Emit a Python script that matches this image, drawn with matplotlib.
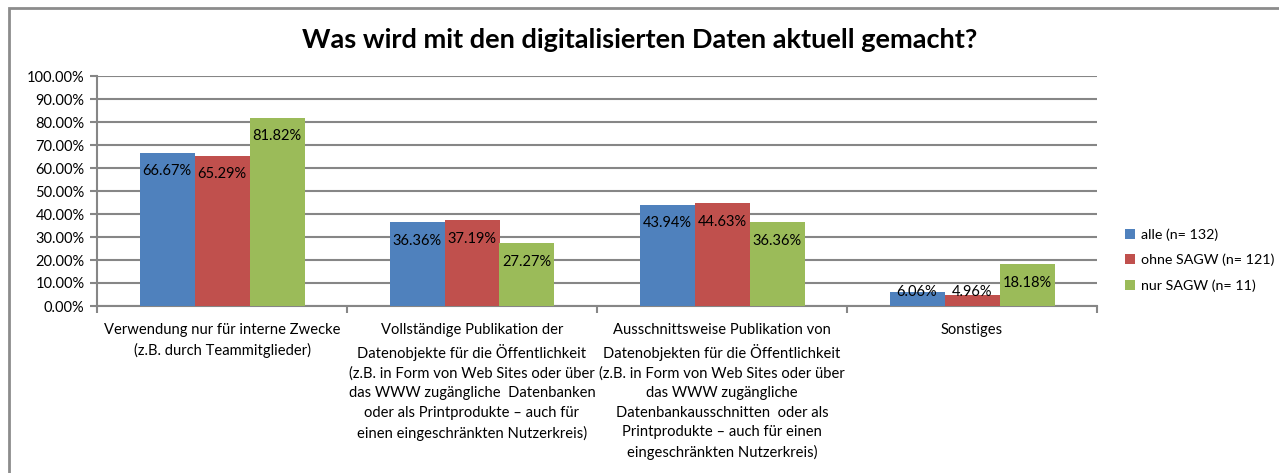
import numpy as np
import matplotlib
matplotlib.use('Agg')
import matplotlib.pyplot as plt
from matplotlib.patches import Rectangle

plt.rcParams['font.family'] = ['Lato', 'DejaVu Sans']

# data
categories = [
    'Verwendung nur für interne Zwecke\n(z.B. durch Teammitglieder)',
    'Vollständige Publikation der\nDatenobjekte für die Öffentlichkeit\n(z.B. in Form von Web Sites oder über\ndas WWW zugängliche  Datenbanken\noder als Printprodukte – auch für\neinen eingeschränkten Nutzerkreis)',
    'Ausschnittsweise Publikation von\nDatenobjekten für die Öffentlichkeit\n(z.B. in Form von Web Sites oder über\ndas WWW zugängliche\nDatenbankausschnitten  oder als\nPrintprodukte – auch für einen\neingeschränkten Nutzerkreis)',
    'Sonstiges',
]
series_names = ['alle (n= 132)', 'ohne SAGW (n= 121)', 'nur SAGW (n= 11)']
alle = [66.67, 36.36, 43.94, 6.06]
ohne_sagw = [65.29, 37.19, 44.63, 4.96]
nur_sagw = [81.82, 27.27, 36.36, 18.18]
colors = ['#4f81bd', '#c0504d', '#9bbb59']

fig = plt.figure(figsize=(12.79, 4.73), dpi=100)
ax = fig.add_axes([97 / 1279, 1 - 306 / 473, 1000 / 1279, 230 / 473])

# outer chart border (only top/left visible)
fig.patches.append(Rectangle((9 / 1279, -0.1), 1.2, 1 - 8 / 473 + 0.1,
                             transform=fig.transFigure, fill=False,
                             edgecolor='#8c8c8c', linewidth=2))

x = np.arange(len(categories))
w = 0.22
for i, (vals, name) in enumerate(zip([alle, ohne_sagw, nur_sagw], series_names)):
    pos = x + (i - 1) * w
    ax.bar(pos, vals, width=w, color=colors[i], label=name, zorder=3)
    for p, v in zip(pos, vals):
        # inside end labels, short bars get label sitting on top edge
        ly = v - 8 if v > 10 else 6.2
        ax.text(p, ly, '%.2f%%' % v, ha='center', va='center',
                fontsize=10.5, zorder=4)

ax.set_ylim(0, 100)
ax.set_xlim(-0.5, 3.5)
ax.set_yticks(np.arange(0, 101, 10))
ax.set_yticklabels(['%.2f%%' % t for t in np.arange(0, 101, 10)], fontsize=10.5)
ax.yaxis.grid(True, color='#868686', linewidth=1.5, zorder=0)
ax.tick_params(axis='y', length=5, color='#868686', width=1.5, pad=4)
ax.set_xticks(np.arange(-0.5, 4, 1), minor=False)
ax.set_xticklabels([])
ax.set_xticks(x, minor=True)
ax.set_xticklabels(categories, minor=True, fontsize=10.6, linespacing=1.5)
ax.tick_params(axis='x', which='major', length=5, color='#868686', width=1.5)
ax.tick_params(axis='x', which='minor', length=0, pad=12)
for s in ['top', 'right']:
    ax.spines[s].set_visible(False)
for s in ['left', 'bottom']:
    ax.spines[s].set_color('#868686')
    ax.spines[s].set_linewidth(1.5)

fig.text(0.5, 1 - 40 / 473, 'Was wird mit den digitalisierten Daten aktuell gemacht?',
         ha='center', va='center', fontsize=19.5, fontweight='bold')

ax.legend(loc='center left', bbox_to_anchor=(1.015, 0.2), frameon=False,
          fontsize=10.3, handlelength=0.7, handleheight=0.7, handletextpad=0.4,
          labelspacing=0.9)

fig.savefig('out.png', dpi=100)
